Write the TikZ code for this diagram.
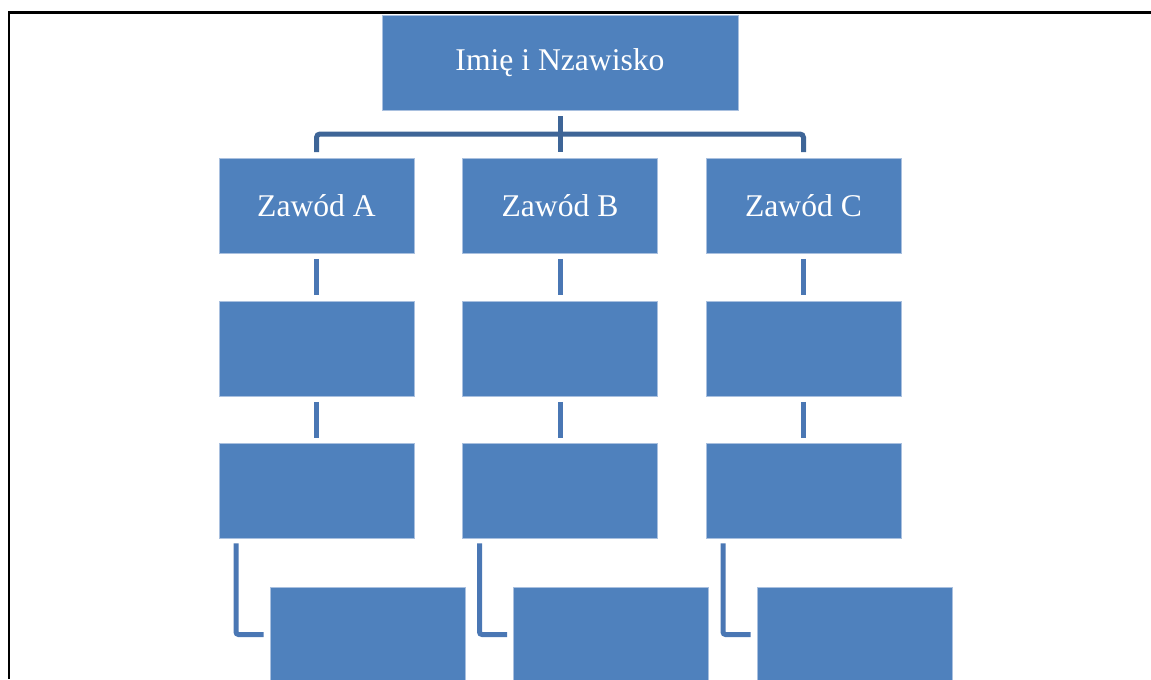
\documentclass[tikz,border=0pt]{standalone}
\usepackage{fontspec}
\setmainfont{Liberation Serif}
\usetikzlibrary{positioning}
\definecolor{boxblue}{HTML}{4F81BD}
\definecolor{boxedge}{HTML}{A9C0DF}
\definecolor{topline}{HTML}{3E6597}
\definecolor{stemline}{HTML}{4A77B4}
\tikzset{
    person/.style = {fill = boxblue, draw = boxedge, line width = 0.01cm, inner sep = 0, outer sep = 0,
        minimum width = 7.12cm, minimum height = 1.9cm, text = white, font = \fontsize{18}{22}\selectfont},
    job/.style = {person, minimum width = 3.9cm},
    treeline/.style = {draw = topline, line width = 0.1cm},
    stemline/.style = {draw = stemline, line width = 0.1cm, shorten < = 0.12cm, shorten > = 0.12cm}
}
\begin{document}
\begin{tikzpicture}[x = 0.02cm, y = -0.02cm]
                \useasboundingbox (0, 0) rectangle (1151, 679);
                \clip (0, 0) rectangle (1151, 679);
                \draw[line width = 0.045cm] (1151, 12.5) -- (9, 12.5) -- (9, 679);
                \node[person] (top) at (560, 63) {Imię i Nzawisko};
                \node[job] (zA) at (316.5, 205.5) {Zawód A};
                \node[job] (zB) at (560, 205.5) {Zawód B};
                \node[job] (zC) at (803.5, 205.5) {Zawód C};
                \foreach \col/\x in {A/316.5, B/560, C/803.5} {
                    \node[job] (\col2) at (\x, 348.5) {};
                    \node[job] (\col3) at (\x, 491) {};
                    \node[job] (\col4) at (\x + 51, 634.5) {};
                    \draw[stemline] (z\col) -- (\col2);
                    \draw[stemline] (\col2) -- (\col3);
                    \draw[draw = stemline, line width = 0.1cm, rounded corners = 0.05cm]
                        ([xshift = 0.34cm, yshift = -0.1cm]\col3.south west) |- ([xshift = -0.13cm]\col4.west);
                }
                \draw[treeline, rounded corners = 0.07cm] ([yshift = 0.12cm]zA.north) |- (560, 134) -| ([yshift = 0.12cm]zC.north);
                \draw[treeline] ([yshift = -0.12cm]top.south) -- ([yshift = 0.12cm]zB.north);
            \end{tikzpicture}
\end{document}
